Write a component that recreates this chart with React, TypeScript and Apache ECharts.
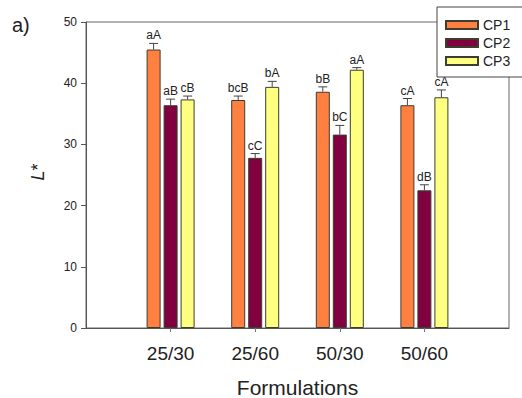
import React, { useEffect, useRef } from "react";
import * as echarts from "echarts";

const categories = ["25/30", "25/60", "50/30", "50/60"];
const seriesNames = ["CP1", "CP2", "CP3"];
const cp1 = [45.5, 37.25, 38.6, 36.4];
const cp2 = [36.4, 27.8, 31.6, 22.5];
const cp3 = [37.35, 39.4, 42.2, 37.7];
const cp1Err = [1.0, 0.65, 0.8, 1.1];
const cp2Err = [1.0, 0.7, 1.5, 0.9];
const cp3Err = [0.55, 0.9, 0.35, 1.2];
const cp1Labels = ["aA", "bcB", "bB", "cA"];
const cp2Labels = ["aB", "cC", "bC", "dB"];
const cp3Labels = ["cB", "bA", "aA", "cA"];
const yTicks = [0, 10, 20, 30, 40, 50];

const colors = ["#FF8040", "#800040", "#FFFF80"];
const FONT = "'Liberation Sans', Arial, Helvetica, sans-serif";
const BAR_W = 14;
const BAR_STEP = 17;

export default function App() {
  const ref = useRef<HTMLDivElement>(null);
  useEffect(() => {
    if (!ref.current) return;
    const chart = echarts.init(ref.current, null, { renderer: "svg" });
    const axisData = ["", ...categories, ""];
    const values = [cp1, cp2, cp3];
    const errs = [cp1Err, cp2Err, cp3Err];
    const labels = [cp1Labels, cp2Labels, cp3Labels];

    const bars = values.map((vals, s) => ({
      type: "bar",
      name: seriesNames[s],
      data: vals.map((v, i) => [i + 1, v]),
      barWidth: BAR_W,
      barGap: `${((BAR_STEP - BAR_W) / BAR_W) * 100}%`,
      itemStyle: { color: colors[s], borderColor: "#3d3d30", borderWidth: 1 },
      z: 2,
    }));

    const errSeries = values.map((vals, s) => ({
      type: "custom",
      name: seriesNames[s] + " err",
      data: vals.map((v, i) => [i + 1, v, errs[s][i]]),
      encode: { x: 0, y: 1 },
      clip: false,
      z: 5,
      renderItem: (params: any, api: any) => {
        const idx = api.value(0);
        const v = api.value(1);
        const e = api.value(2);
        const base = api.coord([idx, v]);
        const top = api.coord([idx, v + e]);
        const x = base[0] + (s - 1) * BAR_STEP;
        const lineStyle = { stroke: "#444", lineWidth: 1 };
        return {
          type: "group",
          children: [
            { type: "line", shape: { x1: x, y1: base[1], x2: x, y2: top[1] }, style: lineStyle },
            { type: "line", shape: { x1: x - 4.5, y1: top[1], x2: x + 4.5, y2: top[1] }, style: lineStyle },
            {
              type: "text",
              x: x,
              y: top[1] - 2,
              style: {
                text: labels[s][params.dataIndex],
                fontSize: 12,
                fontFamily: FONT,
                fill: "#222",
                align: "center",
                verticalAlign: "bottom",
              },
            },
          ],
        };
      },
    }));

    chart.setOption({
      animation: false,
      backgroundColor: "#fff",
      grid: {
        left: 86,
        right: 13,
        top: 22,
        bottom: 70,
        outerBoundsMode: "none",
        containLabel: false,
        show: true,
        borderColor: "#666",
        borderWidth: 1,
        backgroundColor: "transparent",
      },
      legend: {
        data: seriesNames,
        orient: "vertical",
        left: 437,
        top: 7,
        itemWidth: 32,
        itemHeight: 8,
        itemGap: 4,
        padding: [11, 30, 9, 8],
        borderColor: "#444",
        borderWidth: 1,
        backgroundColor: "#fff",
        icon: "rect",
        selectedMode: false,
        textStyle: { fontSize: 14, color: "#222", fontFamily: FONT, lineHeight: 14 },
        z: 10,
      },
      xAxis: {
        type: "category",
        data: axisData,
        boundaryGap: false,
        name: "Formulations",
        nameLocation: "middle",
        nameGap: 49,
        nameTextStyle: { fontSize: 21, color: "#222", fontFamily: FONT },
        axisLine: { show: true, lineStyle: { color: "#555" } },
        axisTick: {
          show: true,
          length: 4,
          interval: (i: number) => i > 0 && i < axisData.length - 1,
          lineStyle: { color: "#777" },
        },
        axisLabel: { interval: 0, fontSize: 19, color: "#222", fontFamily: FONT, margin: 16 },
        splitLine: { show: false },
      },
      yAxis: {
        type: "value",
        min: yTicks[0],
        max: yTicks[yTicks.length - 1],
        interval: 10,
        axisLine: { show: true, lineStyle: { color: "#555" } },
        axisTick: { show: true, length: 5, lineStyle: { color: "#555" } },
        axisLabel: { fontSize: 12, color: "#222", fontFamily: FONT, margin: 9 },
        splitLine: { show: false },
      },
      graphic: [
        {
          type: "text",
          left: 12,
          top: 15,
          style: { text: "a)", fontSize: 20, fontFamily: FONT, fill: "#222" },
        },
        {
          type: "text",
          x: 38,
          y: 172,
          rotation: Math.PI / 2,
          style: {
            text: "{i|L}*",
            fontSize: 18,
            fontFamily: FONT,
            fill: "#222",
            align: "center",
            verticalAlign: "middle",
            rich: { i: { fontStyle: "italic", fontSize: 18, fontFamily: FONT } },
          },
        },
      ],
      series: [...bars, ...errSeries],
    });
    return () => chart.dispose();
  }, []);
  return <div ref={ref} style={{ position: "fixed", left: 0, top: 0, width: 522, height: 398 }} />;
}
